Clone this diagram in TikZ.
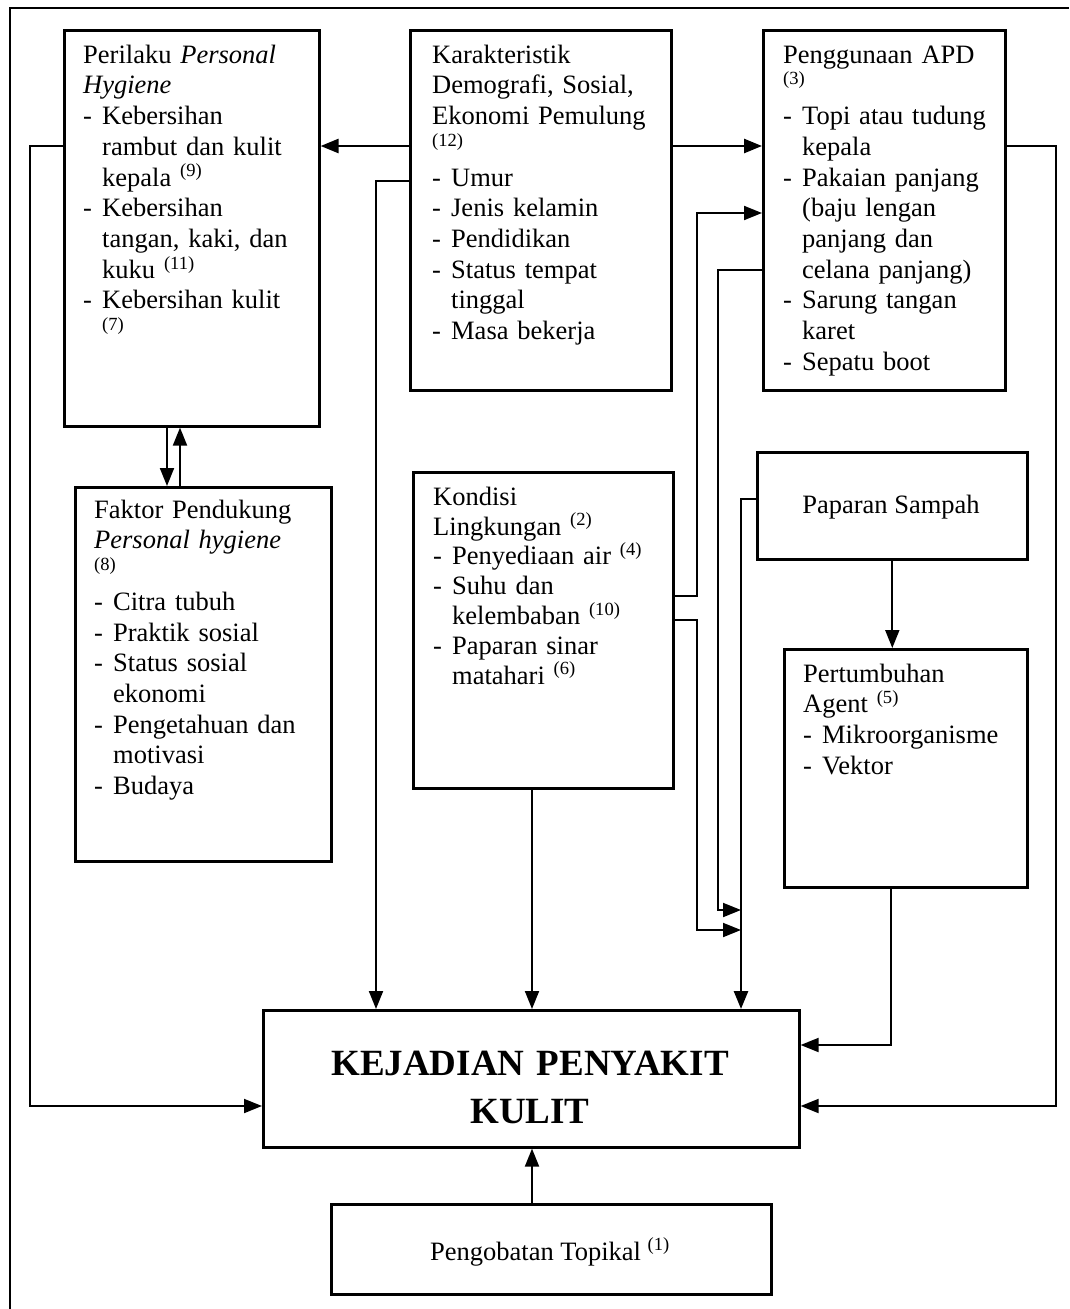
\documentclass[tikz,border=0pt]{standalone}
\usepackage{fontspec}
\setmainfont{Liberation Serif}
\usetikzlibrary{arrows.meta}
\newcommand\dashi{\makebox[19pt][l]{-}}
\newcommand\conti{\hspace*{19pt}}
\newcommand\firstl{\rule{0pt}{25pt}}
\begin{document}
\begin{tikzpicture}[x=1pt,y=-1pt,
  box/.style={draw, line width=2.6pt, anchor=north west, inner sep=0pt},
  txt/.style={anchor=north west, inner sep=0pt, align=left, font=\fontsize{26.5}{30.7}\selectfont},
  ctxt/.style={inner sep=0pt, font=\fontsize{26.5}{30.7}\selectfont},
  arr/.style={line width=1.9pt, -{Triangle[length=18pt,width=14pt]}},
  thk/.style={line width=2.6pt}]
\useasboundingbox (0,0) rectangle (1069,1309);
% outer frame
\draw[line width=1.4pt] (10,1309) -- (10,8) -- (1069,8);
% boxes
\node[box, minimum width=255pt, minimum height=396pt] (P) at (63,29) {};
\node[box, minimum width=261pt, minimum height=360pt] (K) at (409,29) {};
\node[box, minimum width=242pt, minimum height=360pt] (A) at (762,29) {};
\node[box, minimum width=256pt, minimum height=374pt] (F) at (74,486) {};
\node[box, minimum width=260pt, minimum height=316pt] (L) at (412,471) {};
\node[box, minimum width=270pt, minimum height=107pt] (S) at (756,451) {};
\node[box, minimum width=243pt, minimum height=238pt] (G) at (783,648) {};
\node[box, minimum width=536pt, minimum height=137pt] (J) at (262,1009) {};
\node[box, minimum width=440pt, minimum height=90pt] (T) at (330,1203) {};
% texts
\node[txt, text width=232pt] (Pt) at (83,38) {\firstl Perilaku \textit{Personal}\\
 \textit{Hygiene}\\
 \dashi Kebersihan\\
 \conti rambut dan kulit\\
 \conti kepala \textsuperscript{(9)}\\
 \dashi Kebersihan\\
 \conti tangan, kaki, dan\\
 \conti kuku \textsuperscript{(11)}\\
 \dashi Kebersihan kulit\\
 \conti\textsuperscript{(7)}};
\node[txt, text width=232pt] (Kt) at (432,38) {\firstl Karakteristik\\
 Demografi, Sosial,\\
 Ekonomi Pemulung\\
 \textsuperscript{(12)}\\
 \dashi Umur\\
 \dashi Jenis kelamin\\
 \dashi Pendidikan\\
 \dashi Status tempat\\
 \conti tinggal\\
 \dashi Masa bekerja};
\node[txt, text width=218pt] (At) at (783,38) {\firstl Penggunaan APD\\
 \textsuperscript{(3)}\\
 \dashi Topi atau tudung\\
 \conti kepala\\
 \dashi Pakaian panjang\\
 \conti (baju lengan\\
 \conti panjang dan\\
 \conti celana panjang)\\
 \dashi Sarung tangan\\
 \conti karet\\
 \dashi Sepatu boot};
\node[txt, text width=232pt] (Ft) at (94,493) {\firstl Faktor Pendukung\\
 \textit{Personal hygiene}\\
 \textsuperscript{(8)}\\
 \dashi Citra tubuh\\
 \dashi Praktik sosial\\
 \dashi Status sosial\\
 \conti ekonomi\\
 \dashi Pengetahuan dan\\
 \conti motivasi\\
 \dashi Budaya};
\node[txt, text width=235pt, font=\fontsize{26.5}{29.8}\selectfont] (Lt) at (433,480) {\firstl Kondisi\\
 Lingkungan \textsuperscript{(2)}\\
 \dashi Penyediaan air \textsuperscript{(4)}\\
 \dashi Suhu dan\\
 \conti kelembaban \textsuperscript{(10)}\\
 \dashi Paparan sinar\\
 \conti matahari \textsuperscript{(6)}};
\node[txt, text width=220pt] (Gt) at (803,657) {\firstl Pertumbuhan\\
 Agent \textsuperscript{(5)}\\
 \dashi Mikroorganisme\\
 \dashi Vektor};
\node[ctxt, anchor=base] (St) at (891,513) {Paparan Sampah};
\node[ctxt, anchor=base] (Tt) at (550,1260) {Pengobatan Topikal \textsuperscript{(1)}};
\node[inner sep=0pt, anchor=north, text width=520pt, align=center,
  font=\fontsize{37}{48}\selectfont\bfseries] (Jt) at (530,1045) {\rule{0pt}{30pt}KEJADIAN PENYAKIT\\KULIT};
% helper coordinates
\coordinate (ya) at (0,146);
\coordinate (yb) at (0,181);
\coordinate (yc) at (0,213);
\coordinate (yd) at (0,270);
\coordinate (ye) at (0,499);
\coordinate (yf) at (0,596);
\coordinate (yg) at (0,620);
\coordinate (yh) at (0,910);
\coordinate (yi) at (0,930);
\coordinate (yj) at (0,1045);
\coordinate (yk) at (0,1106);
\coordinate (xa) at (30,0);
\coordinate (xb) at (376,0);
\coordinate (xc) at (697,0);
\coordinate (xd) at (718,0);
\coordinate (xe) at (741,0);
\coordinate (xf) at (891,0);
\coordinate (xg) at (1056,0);
\coordinate (xh) at (532,0);
\coordinate (xp) at (167,0);
\coordinate (xq) at (180,0);
% connectors
\draw[arr, thk] (K.west|-ya) -- (P.east|-ya);
\draw[arr, thk] (K.east|-ya) -- (A.west|-ya);
\draw[arr] (P.west|-ya) -| (xa|-yk) -- (J.west|-yk);
\draw[arr] (K.west|-yb) -| (J.north-|xb);
\draw[arr] (L.south-|xh) -- (J.north-|xh);
\draw[arr] (L.east|-yf) -| (xc|-yc) -- (A.west|-yc);
\draw[arr] (L.east|-yg) -| (xc|-yi) -- (xe|-yi);
\draw[arr] (A.west|-yd) -| (xd|-yh) -- (xe|-yh);
\draw[arr, thk] (S.west|-ye) -| (J.north-|xe);
\draw[arr] (S.south) -- (G.north-|S.south);
\draw[arr] (G.south-|xf) |- (J.east|-yj);
\draw[arr] (A.east|-ya) -| (xg|-yk) -- (J.east|-yk);
\draw[arr] (T.north-|xh) -- (J.south-|xh);
\draw[arr] (P.south-|xp) -- (F.north-|xp);
\draw[arr] (F.north-|xq) -- (P.south-|xq);
\end{tikzpicture}
\end{document}
